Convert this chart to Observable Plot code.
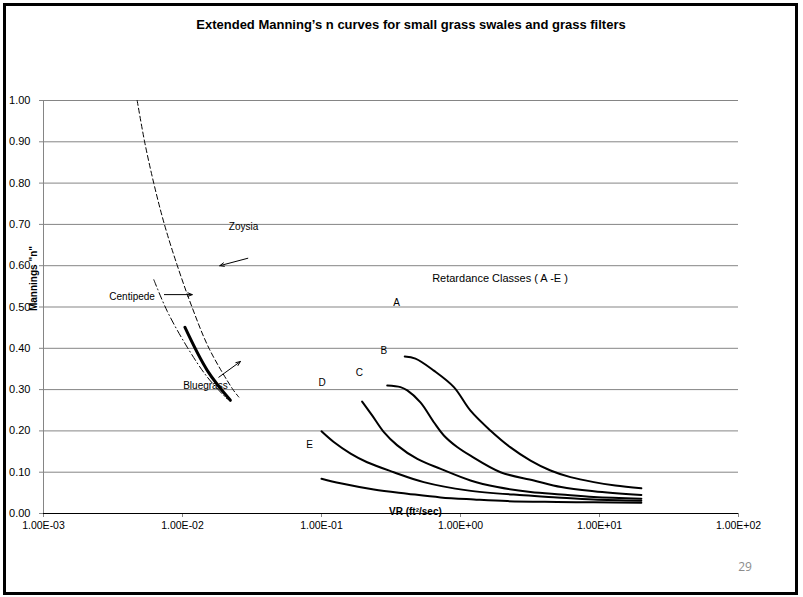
<!DOCTYPE html>
<html><head><meta charset="utf-8">
<script src="https://cdn.jsdelivr.net/npm/d3@7"></script>
<script src="https://cdn.jsdelivr.net/npm/@observablehq/plot@0.6"></script>
<style>
body{margin:0;background:#fff;}
#page{position:relative;width:803px;height:597px;overflow:hidden;font-family:"Liberation Sans",Arial,sans-serif;background:#fff;}
#border{position:absolute;left:3px;top:3px;width:795px;height:592px;border:3px solid #000;box-sizing:border-box;pointer-events:none;}
#title{position:absolute;left:411px;top:17px;transform:translateX(-50%);white-space:nowrap;font-weight:bold;font-size:13px;color:#000;}
#pagenum{position:absolute;left:745px;top:566px;transform:translate(-50%,-50%);color:#8c8c8c;font-size:12px;font-family:"Open Sans","Liberation Sans",sans-serif;}
#chart{position:absolute;left:0;top:0;}
</style>
</head><body>
<div id="page">
  <div id="chart"></div>
  <div id="title">Extended Manning’s n curves for small grass swales and grass filters</div>
  <div id="pagenum">29</div>
  <div id="border"></div>
</div>
<script>
// ---- data ----
const xTicks = [1e-3, 1e-2, 1e-1, 1e0, 1e1, 1e2];
const yTicks = [0, 0.1, 0.2, 0.3, 0.4, 0.5, 0.6, 0.7, 0.8, 0.9, 1.0];

const zoysiaVR = [0.00472, 0.00534, 0.00621, 0.00741, 0.00918, 0.0117, 0.01551, 0.02308, 0.02541];
const zoysiaN  = [1.00, 0.90, 0.80, 0.70, 0.60, 0.50, 0.40, 0.30, 0.282];

const centipedeVR = [0.00622, 0.00776, 0.0108, 0.0151, 0.0210];
const centipedeN  = [0.566, 0.49, 0.403, 0.33, 0.277];

const bluegrassVR = [0.0104, 0.0151, 0.0221];
const bluegrassN  = [0.451, 0.346, 0.274];

const classAVR = [0.397, 0.474, 0.643, 0.896, 1.18, 1.64, 2.29, 3.19, 4.44, 6.18, 9.1, 13.0, 20];
const classAN  = [0.380, 0.375, 0.346, 0.306, 0.249, 0.201, 0.160, 0.128, 0.104, 0.088, 0.076, 0.068, 0.061];

const classBVR = [0.297, 0.370, 0.414, 0.515, 0.643, 0.759, 0.946, 1.18, 1.94, 3.37, 5.3, 9.1, 20];
const classBN  = [0.310, 0.306, 0.298, 0.269, 0.221, 0.189, 0.161, 0.140, 0.100, 0.080, 0.064, 0.054, 0.045];

const classCVR = [0.196, 0.232, 0.281, 0.351, 0.489, 0.72, 1.18, 1.84, 3.19, 5.3, 9.1, 20];
const classCN  = [0.271, 0.237, 0.197, 0.165, 0.132, 0.108, 0.080, 0.064, 0.052, 0.046, 0.040, 0.036];

const classDVR = [0.1, 0.1225, 0.162, 0.213, 0.331, 0.544, 1.12, 2.85, 4.96, 9.1, 20];
const classDN  = [0.199, 0.173, 0.145, 0.124, 0.100, 0.076, 0.056, 0.044, 0.039, 0.034, 0.031];

const classEVR = [0.1, 0.137, 0.238, 0.414, 0.718, 1.25, 2.17, 4.96, 9.1, 20];
const classEN  = [0.084, 0.073, 0.058, 0.048, 0.039, 0.034, 0.030, 0.028, 0.027, 0.026];

const labelText = ["Zoysia", "Centipede", "Bluegrass", "A", "B", "C", "D", "E"];
const labelVR   = [0.0275, 0.00434, 0.01462, 0.347, 0.2805, 0.1875, 0.101, 0.082];
const labelN    = [0.693, 0.524, 0.31, 0.509, 0.393, 0.341, 0.316, 0.166];

const classesTitle = "Retardance Classes ( A -E )";
const classesVR = 0.625;
const classesN = 0.568;

const arrowFromVR = [0.0295, 0.00741, 0.01825];
const arrowFromN  = [0.618, 0.530, 0.330];
const arrowToVR   = [0.01854, 0.01175, 0.0261];
const arrowToN    = [0.600, 0.530, 0.368];

const yTitle = "Mannings \"n\"";
const yTitleN = 0.569;
const xTitle = "VR (ft²/sec)";
const xTitleVR = 0.474;

// ---- build ----
const pts = (vr, n) => vr.map((v, i) => ({vr: v, n: n[i]}));
const series = [
  {d: pts(zoysiaVR, zoysiaN), w: 1, dash: "5,3"},
  {d: pts(centipedeVR, centipedeN), w: 1, dash: "7,3,1,3"},
  {d: pts(bluegrassVR, bluegrassN), w: 3, dash: null},
  {d: pts(classAVR, classAN), w: 2, dash: null},
  {d: pts(classBVR, classBN), w: 2, dash: null},
  {d: pts(classCVR, classCN), w: 2, dash: null},
  {d: pts(classDVR, classDN), w: 2, dash: null},
  {d: pts(classEVR, classEN), w: 2, dash: null}
];
const labels = labelText.map((t, i) => ({t, vr: labelVR[i], n: labelN[i]}));
const arrows = arrowFromVR.map((v, i) => ({x1: v, y1: arrowFromN[i], x2: arrowToVR[i], y2: arrowToN[i]}));

const fmtX = d => {
  const e = Math.round(Math.log10(d));
  return "1.00E" + (e < 0 ? "-" : "+") + String(Math.abs(e)).padStart(2, "0");
};

const chart = Plot.plot({
  width: 803,
  height: 597,
  marginLeft: 43,
  marginRight: 65,
  marginTop: 100,
  marginBottom: 84,
  style: {fontFamily: "'Liberation Sans', Arial, sans-serif", fontSize: "11px", background: "transparent", color: "#000"},
  x: {type: "log", domain: [1e-3, 1e2]},
  y: {domain: [0, 1]},
  marks: [
    Plot.ruleY(yTicks.filter(d => d > 0), {stroke: "#858585", strokeWidth: 1}),
    Plot.ruleX([1e-3], {stroke: "#858585", strokeWidth: 1}),
    Plot.axisY({ticks: yTicks, tickFormat: d => d.toFixed(2), tickSize: 4, tickPadding: 9, stroke: "#858585", fill: "#000", label: null, fontSize: 11}),
    Plot.axisX({ticks: xTicks, tickFormat: fmtX, tickSize: 4, tickPadding: 4, stroke: "#858585", fill: "#000", label: null, fontSize: 10.5}),
    Plot.ruleY([0], {stroke: "#000", strokeWidth: 1}),
    ...series.map(s => Plot.line(s.d, {x: "vr", y: "n", stroke: "#000", strokeWidth: s.w, strokeDasharray: s.dash, curve: "catmull-rom"})),
    Plot.arrow(arrows, {x1: "x1", y1: "y1", x2: "x2", y2: "y2", stroke: "#000", strokeWidth: 1, headLength: 7, headAngle: 45}),
    Plot.text(labels, {x: "vr", y: "n", text: "t", fill: "#000", fontSize: 10}),
    Plot.text([classesTitle], {x: () => classesVR, y: () => classesN, textAnchor: "start", fill: "#000", fontSize: 11}),
    Plot.text([yTitle], {frameAnchor: "left", y: () => yTitleN, dx: -10, rotate: -90, textAnchor: "middle", fontWeight: "bold", fontSize: 10, fill: "#000"}),
    Plot.text([xTitle], {frameAnchor: "bottom", x: () => xTitleVR, dy: 1, textAnchor: "middle", fontWeight: "bold", fontSize: 10, fill: "#000"})
  ]
});
document.getElementById("chart").appendChild(chart);
</script>
</body></html>
